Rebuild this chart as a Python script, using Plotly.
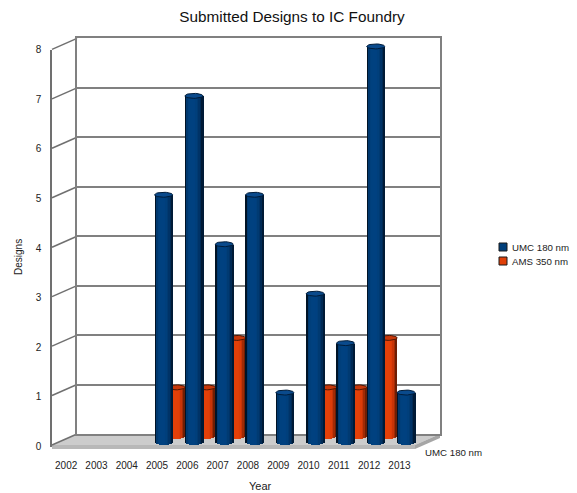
import math
import plotly.graph_objects as go

# Submitted designs per year and foundry process
years = [2002, 2003, 2004, 2005, 2006, 2007, 2008, 2009, 2010, 2011, 2012, 2013]
umc_180 = [0, 0, 0, 5, 7, 4, 5, 1, 3, 2, 8, 1]
ams_350 = [0, 0, 0, 1, 1, 2, 0, 0, 1, 1, 2, 0]
y_ticks = [0, 1, 2, 3, 4, 5, 6, 7, 8]

W, H = 577, 493
FONT = "Liberation Sans"
GRID = "#808080"
YEAR_PX = 30.3
UNIT_PX = 49.45


def fx(px):
    return px / W


def fy(px):
    return 1 - px / H


YMIN, YMAX = -0.2, 8.3
XMIN, XMAX = years[0] - 0.5, years[-1] + 0.5


def x_domain(left):
    return [fx(left), fx(left + YEAR_PX * len(years))]


def y_domain(zero_px):
    return [fy(zero_px - YMIN * UNIT_PX), fy(zero_px - YMAX * UNIT_PX)]


# Horizontal shading across a cylinder, left edge to right edge
BLUE_SHADES = ["#001326", "#00386e", "#003f7b", "#00417f", "#004180", "#004180",
               "#004080", "#003f7b", "#003a72", "#003367", "#002a55", "#001a36"]
RED_SHADES = ["#8c2705", "#c43506", "#dc3c07", "#e23f08", "#e44008", "#e44008",
              "#e44008", "#e23f08", "#dc3c08", "#c83407", "#a02b06", "#6e1e04"]

HALF_W = 0.297   # cylinder half width, in years
CAP_H = 0.05     # cap half height, in designs


def cylinders(values, shades, xa, ya, name, cap_fill, cap_line):
    """Strip-shaded bars plus a cap ellipse for each non-zero value."""
    xs = [x for x, v in zip(years, values) if v > 0]
    vs = [v for v in values if v > 0]
    n = len(shades)
    step = 2 * HALF_W / n
    out = []
    for i, colour in enumerate(shades):
        u = (i + 0.5) / n * 2 - 1
        drop = CAP_H * math.sqrt(max(0, 1 - u * u))
        out.append(go.Bar(
            x=xs, y=[v + drop for v in vs], base=[-drop] * len(vs),
            offset=-HALF_W + i * step, width=step * 1.12,
            marker=dict(color=colour, line=dict(width=0)),
            xaxis=xa, yaxis=ya, name=name,
            showlegend=False, hoverinfo="skip",
        ))
    cx, cy = [], []
    for x, v in zip(xs, vs):
        for k in range(37):
            t = 2 * math.pi * k / 36
            cx.append(x + HALF_W * math.cos(t))
            cy.append(v + CAP_H * math.sin(t))
        cx.append(None)
        cy.append(None)
    out.append(go.Scatter(
        x=cx, y=cy, mode="lines", fill="toself", fillcolor=cap_fill,
        line=dict(color=cap_line, width=1), xaxis=xa, yaxis=ya,
        showlegend=False, hoverinfo="skip",
    ))
    return out


# Markerless traces keep the front plane and the back wall on the page
frame = [
    go.Scatter(x=years, y=umc_180, mode="none", xaxis="x", yaxis="y", showlegend=False, hoverinfo="skip"),
    go.Scatter(x=years, y=umc_180, mode="none", xaxis="x2", yaxis="y2", showlegend=False, hoverinfo="skip"),
]
traces = frame
traces += cylinders(umc_180, BLUE_SHADES, "x4", "y4", "UMC 180 nm", "#0a4a8c", "#001c3a")
traces += cylinders(ams_350, RED_SHADES, "x3", "y3", "AMS 350 nm", "#c8380a", "#4e1603")
fig = go.Figure(traces)

# Floor slab and the slanted ticks joining the front axis to the back wall
FL, BL, FR, BR = 52, 77, 415, 440
F0, B0 = 445, 434
shapes = [
    dict(type="path", layer="below", xref="paper", yref="paper", line=dict(width=0), fillcolor=colour,
         path="M" + " L".join(f"{fx(a)},{fy(b)}" for a, b in pts) + " Z")
    for colour, pts in [
        ("#cccccc", [(FL, F0), (BL, B0), (BR, B0), (FR, F0)]),
        ("#b8b8b8", [(FL, F0), (FR, F0), (FR, F0 + 4), (FL, F0 + 4)]),
        ("#a6a6a6", [(FR, F0), (BR, B0), (BR, B0 + 4), (FR, F0 + 4)]),
    ]
]
for v in y_ticks:
    shapes.append(dict(type="line", layer="below", xref="paper", yref="paper",
                       x0=fx(FL), x1=fx(BL),
                       y0=fy(F0 - v * UNIT_PX), y1=fy(B0 - v * UNIT_PX),
                       line=dict(color="#707070", width=1.5)))

# Key at the right of the chart, depth label and axis titles
INK = "#222222"
text_font = dict(family=FONT, size=9.7, color=INK)
annotations = [
    dict(text="UMC 180 nm", xref="paper", yref="paper", x=fx(422.5), y=fy(452),
         xanchor="left", yanchor="middle", showarrow=False, font=text_font),
    dict(text="Year", xref="paper", yref="paper", x=fx(260), y=fy(486),
         xanchor="center", yanchor="middle", showarrow=False,
         font=dict(family=FONT, size=11, color=INK)),
    dict(text="Designs", xref="paper", yref="paper", x=fx(18), y=fy(257), textangle=-90,
         xanchor="center", yanchor="middle", showarrow=False,
         font=dict(family=FONT, size=10, color=INK)),
]
for label, fill, top in [("UMC 180 nm", "#003f7b", 243), ("AMS 350 nm", "#e04008", 257)]:
    shapes.append(dict(type="rect", xref="paper", yref="paper", fillcolor=fill,
                       x0=fx(499), x1=fx(507), y0=fy(top), y1=fy(top + 8),
                       line=dict(color="#1a1a1a", width=1)))
    annotations.append(dict(text=label, xref="paper", yref="paper", x=fx(510), y=fy(top + 4),
                            xanchor="left", yanchor="middle", showarrow=False, font=text_font))

tick_font = dict(family=FONT, size=10, color=INK)
hidden = dict(visible=False, range=[XMIN, XMAX], fixedrange=True, automargin=False)
hidden_y = dict(visible=False, range=[YMIN, YMAX], fixedrange=True, automargin=False)
CLEAR = "rgba(0,0,0,0)"
LABEL_NUDGE = 1 / YEAR_PX

fig.update_layout(
    width=W, height=H, autosize=False,
    margin=dict(l=0, r=0, t=0, b=0, pad=0, autoexpand=False),
    paper_bgcolor="white", plot_bgcolor="rgba(0,0,0,0)",
    barmode="overlay", bargap=0, bargroupgap=0,
    shapes=shapes, annotations=annotations, showlegend=False,
    font=dict(family=FONT, size=10, color=INK),
    title=dict(text="Submitted Designs to IC Foundry", x=fx(292), y=fy(17),
               xanchor="center", yanchor="middle",
               font=dict(family=FONT, size=15.3, color="#111111")),
    # Front plane: carries the labels
    xaxis=dict(domain=x_domain(FL), range=[XMIN + LABEL_NUDGE, XMAX + LABEL_NUDGE], anchor="y", automargin=False,
               tickmode="array", tickvals=years, ticktext=[str(y) for y in years],
               tickfont=tick_font, showgrid=False, zeroline=False, showline=False,
               ticks="outside", ticklen=9, tickcolor=CLEAR),
    yaxis=dict(domain=[fy(446.5), fy(49.5)], range=[0, 8], anchor="x", automargin=False,
               tickmode="array", tickvals=y_ticks, tickfont=tick_font,
               showgrid=False, zeroline=False, showline=True, linecolor="#707070", linewidth=1.5,
               ticks="outside", ticklen=7, tickcolor=CLEAR),
    # Back wall with the horizontal grid
    xaxis2=dict(domain=[fx(BL), fx(BR)], range=[XMIN, XMAX], anchor="y2", showgrid=False, zeroline=False,
                automargin=False, showticklabels=False, ticks="", showline=True, mirror=True,
                linecolor=GRID, linewidth=2),
    yaxis2=dict(domain=[fy(B0), fy(B0 - 8 * UNIT_PX)], range=[0, 8], anchor="x2", tickmode="array",
                tickvals=y_ticks, showgrid=True, gridcolor=GRID, gridwidth=2, zeroline=False,
                automargin=False, showticklabels=False, ticks="", showline=True, mirror=True,
                linecolor=GRID, linewidth=2),
    # Back row of cylinders
    xaxis3=dict(hidden, domain=x_domain(70), anchor="y3"),
    yaxis3=dict(hidden_y, domain=y_domain(436.8), anchor="x3"),
    # Front row of cylinders
    xaxis4=dict(hidden, domain=x_domain(57.5), anchor="y4"),
    yaxis4=dict(hidden_y, domain=y_domain(442), anchor="x4"),
)

fig.write_html("out.html", config=dict(displayModeBar=False))
